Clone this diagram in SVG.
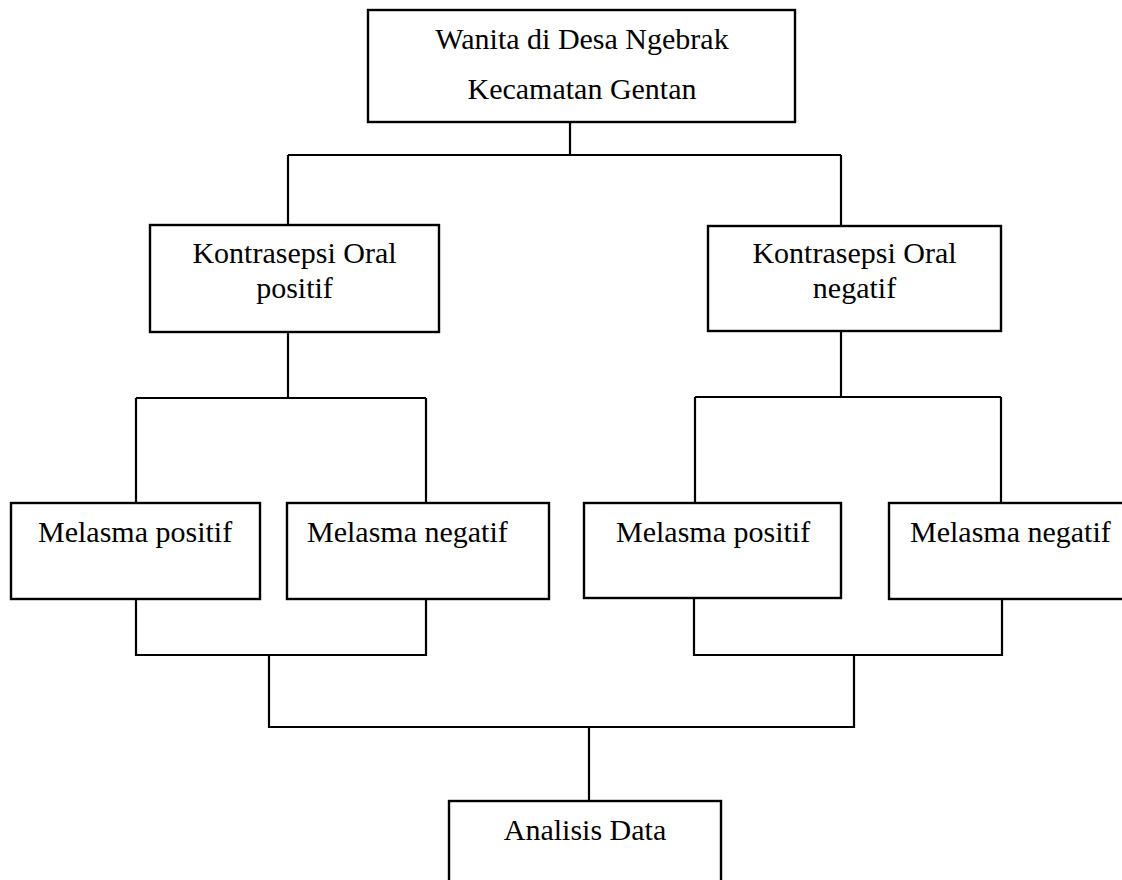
<svg xmlns="http://www.w3.org/2000/svg" width="1122" height="880" viewBox="0 0 1122 880">
<style>
.box{fill:#fff;stroke:#000;stroke-width:2.4}
.ln{fill:none;stroke:#000;stroke-width:2.2}
text{font-family:"Liberation Serif","Times New Roman",serif;font-size:30px;fill:#000}
.c{text-anchor:middle}
</style>
<rect width="1122" height="880" fill="#fff"/>
<g id="connectors">
<path class="ln" d="M570,122 V155"/>
<path class="ln" d="M288,155 H841 M288,155 V225 M841,155 V226"/>
<path class="ln" d="M288,332 V398 M136,398 H426 M136,398 V503 M426,398 V503"/>
<path class="ln" d="M841,331 V397 M695,397 H1001 M695,397 V503 M1001,397 V503"/>
<path class="ln" d="M136,599 V655 H426 V599"/>
<path class="ln" d="M694,598 V655 H1002 V599"/>
<path class="ln" d="M269,655 V727 H854 V655"/>
<path class="ln" d="M589,727 V801"/>
</g>
<g id="wanita">
<rect class="box" x="368" y="10" width="427" height="112"/>
<text class="c" x="582" y="49">Wanita di Desa Ngebrak</text>
<text class="c" x="582" y="99">Kecamatan Gentan</text>
</g>
<g id="ko-positif">
<rect class="box" x="150" y="225" width="289" height="107"/>
<text class="c" x="294.5" y="263">Kontrasepsi Oral</text>
<text class="c" x="294.5" y="298">positif</text>
</g>
<g id="ko-negatif">
<rect class="box" x="708" y="226" width="293" height="105"/>
<text class="c" x="854.5" y="263">Kontrasepsi Oral</text>
<text class="c" x="854.5" y="298">negatif</text>
</g>
<g id="mp1">
<rect class="box" x="11" y="503" width="249" height="96"/>
<text x="38" y="542">Melasma positif</text>
</g>
<g id="mn1">
<rect class="box" x="287" y="503" width="262" height="96"/>
<text x="307" y="542">Melasma negatif</text>
</g>
<g id="mp2">
<rect class="box" x="584" y="503" width="257" height="95"/>
<text x="616" y="542">Melasma positif</text>
</g>
<g id="mn2">
<rect class="box" x="889" y="503" width="245" height="96"/>
<text x="910" y="542">Melasma negatif</text>
</g>
<g id="analisis">
<rect class="box" x="449" y="801" width="272" height="90"/>
<text class="c" x="585" y="840">Analisis Data</text>
</g>
</svg>
